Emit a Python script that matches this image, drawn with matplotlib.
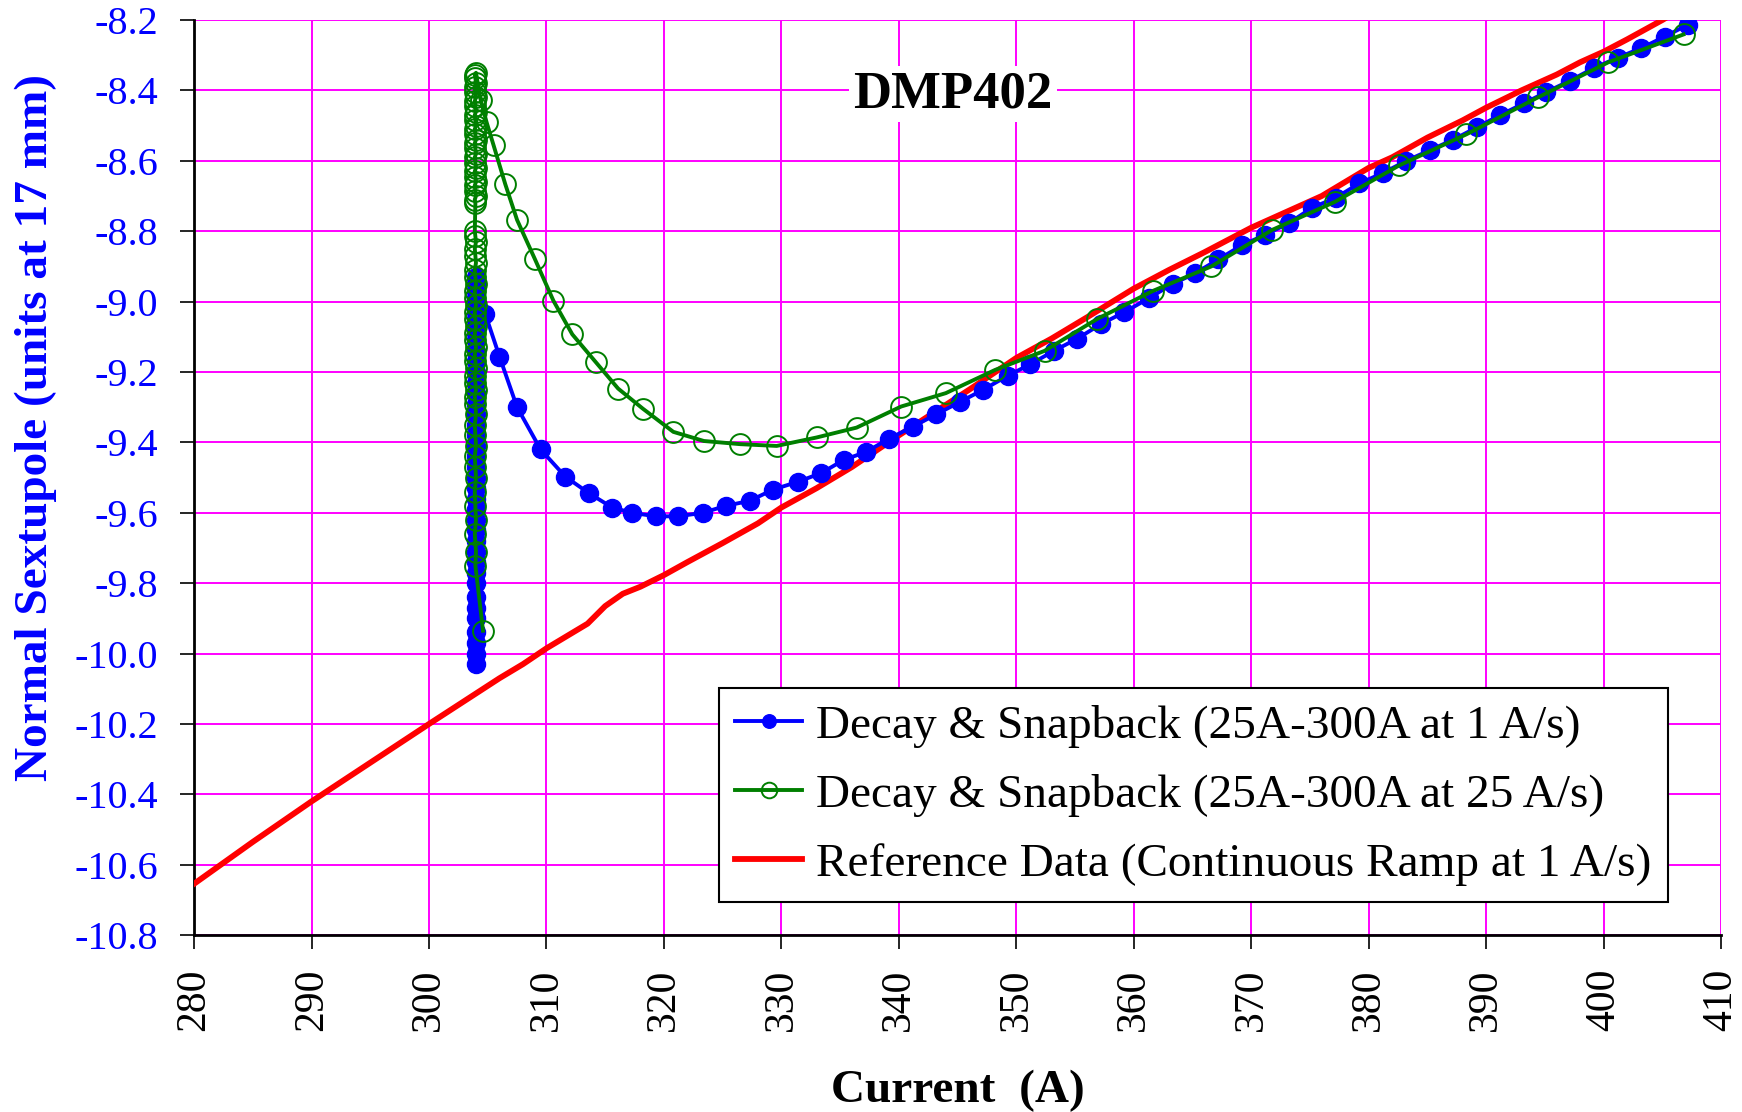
import matplotlib
matplotlib.use("Agg")
import matplotlib.pyplot as plt
from matplotlib.ticker import FixedLocator, FuncFormatter

# --- Decay & snapback, 25A-300A at 1 A/s (plateau points, then ramp) ---
blue_I = [304.0] * 40 + [304.8, 306.0, 307.5, 309.5, 311.6, 313.6, 315.6, 317.3,
          319.3, 321.2, 323.3, 325.3, 327.3, 329.3, 331.4, 333.4, 335.3, 337.2,
          339.2, 341.2, 343.2, 345.2, 347.2, 349.3, 351.2, 353.2, 355.2, 357.2,
          359.2, 361.3, 363.3, 365.2, 367.2, 369.2, 371.2, 373.2, 375.2, 377.2,
          379.2, 381.2, 383.2, 385.2, 387.2, 389.2, 391.2, 393.2, 395.1, 397.1,
          399.2, 401.2, 403.2, 405.2, 407.2]
blue_S = [-10.03, -10.00, -9.97, -9.94, -9.90, -9.87, -9.84, -9.80, -9.77, -9.74,
          -9.71, -9.68, -9.65, -9.62, -9.59, -9.56, -9.53, -9.50, -9.47, -9.44,
          -9.41, -9.38, -9.35, -9.32, -9.29, -9.26, -9.23, -9.20, -9.17, -9.14,
          -9.11, -9.09, -9.07, -9.05, -9.03, -9.01, -8.99, -8.97, -8.95, -8.93,
          -9.036, -9.156, -9.30, -9.42, -9.497, -9.544, -9.585, -9.60,
          -9.61, -9.61, -9.60, -9.58, -9.566, -9.534, -9.512, -9.487, -9.45, -9.427,
          -9.389, -9.355, -9.32, -9.285, -9.25, -9.21, -9.178, -9.14, -9.105, -9.064,
          -9.03, -8.99, -8.95, -8.92, -8.88, -8.84, -8.81, -8.777, -8.733, -8.705,
          -8.664, -8.635, -8.60, -8.57, -8.54, -8.505, -8.47, -8.437, -8.405, -8.373,
          -8.336, -8.307, -8.28, -8.247, -8.213]

# --- Decay & snapback, 25A-300A at 25 A/s ---
green_I = [304.6] + [303.95, 304.0, 303.9, 304.0, 303.95, 303.9, 304.0, 303.95,
           303.9, 304.0, 303.95, 303.9, 304.0, 303.95, 303.9, 304.0, 303.95, 303.9,
           304.0, 303.95, 303.9, 304.0, 303.95, 303.9, 304.0, 303.95, 303.9, 304.0,
           303.95, 303.9, 304.0, 303.95, 303.9, 304.0, 303.95, 303.9, 304.0, 303.95,
           303.9] + [303.95, 303.9, 304.0, 303.95, 303.9, 304.0, 303.95, 303.9, 304.0,
           303.95, 303.9, 304.0, 303.95, 303.9, 304.0, 303.95, 303.9, 304.0, 303.95,
           303.9, 304.0, 303.95, 303.9, 304.0, 303.95, 303.9, 304.0, 303.95, 303.9,
           304.0] + [304.4, 304.9, 305.5, 306.5, 307.5, 309.0, 310.6,
           312.2, 314.2, 316.1, 318.2, 320.8, 323.4, 326.5, 329.6, 333.0, 336.4,
           340.2, 344.0, 348.2, 352.4, 356.9, 361.6, 366.6, 371.8, 377.1, 382.6,
           388.3, 394.4, 400.4, 406.8]
green_S = [-9.935] + [-9.75, -9.71, -9.66, -9.62, -9.58, -9.54, -9.50, -9.47,
           -9.44, -9.41, -9.38, -9.35, -9.32, -9.29, -9.27, -9.25, -9.23, -9.21,
           -9.19, -9.17, -9.15, -9.13, -9.11, -9.09, -9.07, -9.05, -9.03, -9.01,
           -8.99, -8.97, -8.95, -8.93, -8.91, -8.89, -8.87, -8.85, -8.83, -8.815,
           -8.80] + [-8.72, -8.71, -8.70, -8.685, -8.67, -8.66, -8.645, -8.63, -8.62,
           -8.605, -8.59, -8.58, -8.565, -8.55, -8.54, -8.525, -8.51, -8.50, -8.485,
           -8.47, -8.46, -8.445, -8.43, -8.42, -8.405, -8.39, -8.38, -8.365, -8.355,
           -8.35] + [-8.427, -8.49, -8.556, -8.667, -8.768, -8.878, -8.998,
           -9.093, -9.172, -9.247, -9.304, -9.37, -9.396, -9.405, -9.41, -9.386, -9.358,
           -9.298, -9.26, -9.194, -9.14, -9.049, -8.97, -8.90, -8.796, -8.717, -8.613,
           -8.525, -8.42, -8.32, -8.241]

# --- Reference data, continuous ramp at 1 A/s ---
red_I = [280, 285, 290, 295, 300, 303, 306, 308, 310, 312, 313.5, 315, 316.5, 318,
         320, 322, 325, 328, 330, 333, 336, 340, 343, 346, 350, 353, 356, 360, 363,
         366, 370, 373, 376, 378, 380, 382, 385, 388, 390, 393, 396, 398, 400, 402,
         405, 406]
red_S = [-10.654, -10.535, -10.42, -10.31, -10.20, -10.135, -10.07, -10.03, -9.985,
         -9.945, -9.915, -9.865, -9.83, -9.81, -9.777, -9.74, -9.686, -9.63, -9.585,
         -9.53, -9.47, -9.38, -9.315, -9.25, -9.16, -9.105, -9.045, -8.963, -8.91,
         -8.86, -8.79, -8.745, -8.70, -8.66, -8.62, -8.59, -8.534, -8.485, -8.449,
         -8.40, -8.355, -8.32, -8.29, -8.255, -8.20, -8.18]

x_ticks = list(range(280, 411, 10))
y_ticks = [-10.8, -10.6, -10.4, -10.2, -10.0, -9.8, -9.6, -9.4, -9.2, -9.0, -8.8,
           -8.6, -8.4, -8.2]

labels = ["Decay & Snapback (25A-300A at 1 A/s)",
          "Decay & Snapback (25A-300A at 25 A/s)",
          "Reference Data (Continuous Ramp at 1 A/s)"]

SERIF = ["Liberation Serif", "DejaVu Serif"]

fig = plt.figure(figsize=(17.42, 11.12), dpi=100)
ax = fig.add_axes([0.1114, 0.159, 0.8766, 0.823])

ax.plot(red_I, red_S, color="#FF0000", lw=4.2, zorder=3, label=labels[2])
ax.plot(blue_I, blue_S, color="#0000FF", lw=2.8, marker="o", ms=13,
        mfc="#0000FF", mec="#0000FF", zorder=4, label=labels[0])
ax.plot(green_I, green_S, color="#007F00", lw=2.8, marker="o", ms=15,
        mfc="none", mec="#007F00", mew=1.4, zorder=5, label=labels[1])

ax.set_xlim(280, 410)
ax.set_ylim(-10.8, -8.2)
ax.xaxis.set_major_locator(FixedLocator(x_ticks))
ax.yaxis.set_major_locator(FixedLocator(y_ticks))
ax.xaxis.set_major_formatter(FuncFormatter(lambda v, p: "%d" % round(v)))
ax.yaxis.set_major_formatter(FuncFormatter(lambda v, p: ("%.1f" % v).replace("\u2212", "-")))

ax.grid(True, color="#FF00FF", lw=1.4, zorder=1)
ax.set_axisbelow(True)
for side in ("top", "right"):
    ax.spines[side].set_visible(False)
for side in ("left", "bottom"):
    ax.spines[side].set_color("black")
    ax.spines[side].set_linewidth(2.0)

ax.tick_params(axis="both", direction="out", length=10, width=1.2, color="black")
ax.tick_params(axis="x", labelsize=30, labelcolor="black", labelrotation=90, pad=14)
ax.tick_params(axis="y", labelsize=29, labelcolor="#0000FF", pad=16)
for t in ax.get_xticklabels() + ax.get_yticklabels():
    t.set_fontfamily(SERIF)

ax.set_xlabel("Current  (A)", fontsize=34, fontweight="bold", family=SERIF,
              color="black", labelpad=28)
ax.set_ylabel("Normal Sextupole (units at 17 mm)", fontsize=34, fontweight="bold",
              family=SERIF, color="#0000FF")
ax.yaxis.set_label_coords(-0.09, 0.555)

ax.text(0.497, 0.919, "DMP402", transform=ax.transAxes, fontsize=38,
        fontweight="bold", family=SERIF, ha="center", va="center", zorder=6,
        bbox=dict(facecolor="white", edgecolor="none", pad=3))

h, l = ax.get_legend_handles_labels()
order = [1, 2, 0]
leg = ax.legend([h[i] for i in order], [l[i] for i in order],
                loc="lower right", bbox_to_anchor=(0.965, 0.036), borderaxespad=0,
                prop={"family": SERIF, "size": 34}, frameon=True, fancybox=False,
                edgecolor="black", framealpha=1, handlelength=1.4,
                handletextpad=0.3, labelspacing=0.55, borderpad=0.35,
                markerscale=0.75)
leg.get_frame().set_linewidth(1.5)
leg.set_zorder(10)

fig.savefig("out.png", dpi=100)
